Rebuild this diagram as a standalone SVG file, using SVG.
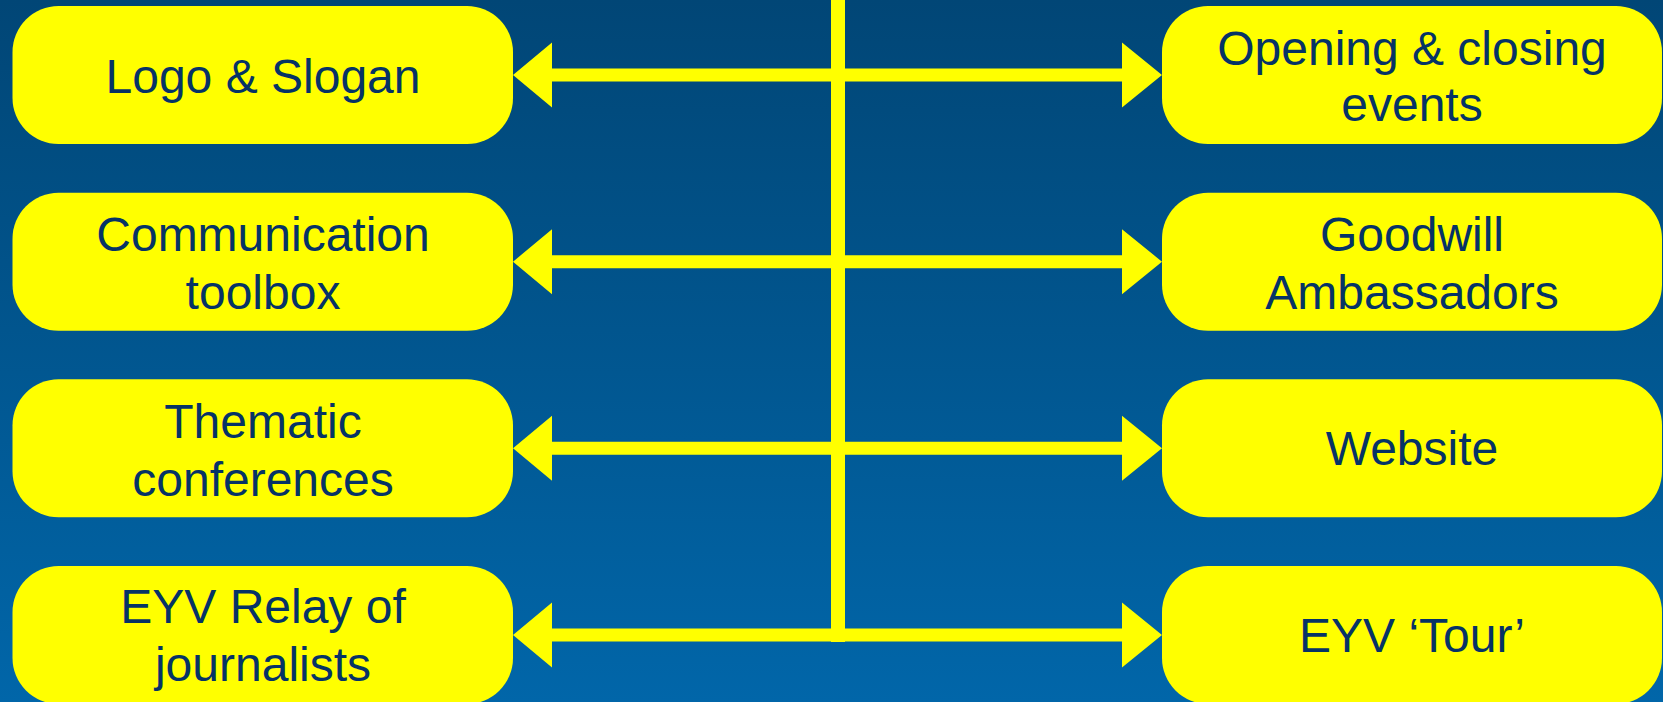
<svg xmlns="http://www.w3.org/2000/svg" width="1663" height="702" viewBox="0 0 1663 702">
  <defs>
    <linearGradient id="bg" x1="0" y1="0" x2="0" y2="1">
      <stop offset="0" stop-color="#014676"/>
      <stop offset="1" stop-color="#0166A9"/>
    </linearGradient>
    <style>
      .box { fill: #FFFF00; }
      .lbl { font-family: "Liberation Sans", Arial, sans-serif; font-size: 48px; fill: #063366; text-anchor: middle; }
      .ln { fill: #FFFF00; }
    </style>
  </defs>
  <rect x="0" y="0" width="1663" height="702" fill="url(#bg)"/>

  <g id="connectors">
    <rect class="ln" x="831" y="0" width="14" height="642"/>
    <path class="ln" d="M513,75 L552,42.5 L552,68.5 L1122,68.5 L1122,42.5 L1162,75 L1122,107.5 L1122,81.5 L552,81.5 L552,107.5 Z"/>
    <path class="ln" d="M513,261.7 L552,229.2 L552,255.2 L1122,255.2 L1122,229.2 L1162,261.7 L1122,294.2 L1122,268.2 L552,268.2 L552,294.2 Z"/>
    <path class="ln" d="M513,448.3 L552,415.8 L552,441.8 L1122,441.8 L1122,415.8 L1162,448.3 L1122,480.8 L1122,454.8 L552,454.8 L552,480.8 Z"/>
    <path class="ln" d="M513,635 L552,602.5 L552,628.5 L1122,628.5 L1122,602.5 L1162,635 L1122,667.5 L1122,641.5 L552,641.5 L552,667.5 Z"/>
  </g>

  <g id="node-logo">
    <rect class="box" x="12.5" y="6" width="500.5" height="138" rx="46" ry="46"/>
    <text class="lbl" x="263" y="93">Logo &amp; Slogan</text>
  </g>
  <g id="node-toolbox">
    <rect class="box" x="12.5" y="192.7" width="500.5" height="138" rx="46" ry="46"/>
    <text class="lbl" x="263" y="251">Communication</text>
    <text class="lbl" x="263" y="309">toolbox</text>
  </g>
  <g id="node-conferences">
    <rect class="box" x="12.5" y="379.3" width="500.5" height="138" rx="46" ry="46"/>
    <text class="lbl" x="263" y="437.5">Thematic</text>
    <text class="lbl" x="263" y="495.5">conferences</text>
  </g>
  <g id="node-relay">
    <rect class="box" x="12.5" y="566" width="500.5" height="138" rx="46" ry="46"/>
    <text class="lbl" x="263" y="623">EYV Relay of</text>
    <text class="lbl" x="263" y="681">journalists</text>
  </g>

  <g id="node-events">
    <rect class="box" x="1162" y="6" width="500" height="138" rx="46" ry="46"/>
    <text class="lbl" x="1412" y="64.5">Opening &amp; closing</text>
    <text class="lbl" x="1412" y="121">events</text>
  </g>
  <g id="node-ambassadors">
    <rect class="box" x="1162" y="192.7" width="500" height="138" rx="46" ry="46"/>
    <text class="lbl" x="1412" y="251">Goodwill</text>
    <text class="lbl" x="1412" y="309">Ambassadors</text>
  </g>
  <g id="node-website">
    <rect class="box" x="1162" y="379.3" width="500" height="138" rx="46" ry="46"/>
    <text class="lbl" x="1412" y="465">Website</text>
  </g>
  <g id="node-tour">
    <rect class="box" x="1162" y="566" width="500" height="138" rx="46" ry="46"/>
    <text class="lbl" x="1412" y="652">EYV ‘Tour’</text>
  </g>
</svg>
